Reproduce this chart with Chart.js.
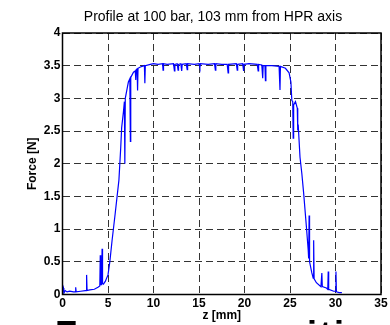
<!DOCTYPE html>
<html>
<head>
<meta charset="utf-8">
<script src="https://cdn.jsdelivr.net/npm/chart.js@4/dist/chart.umd.min.js"></script>
<style>
  body { margin: 0; background: #fff; }
  #wrap { position: relative; width: 390px; height: 325px; overflow: hidden; }
  #big { position: absolute; left: 55px; top: 317px; font: bold 36px 'Liberation Sans', Arial, sans-serif;
         line-height: 36px; letter-spacing: 2.5px; color: #000; white-space: nowrap; }
</style>
</head>
<body>
<div id="wrap">
  <canvas id="chart"></canvas>
  <div id="big">Force vs position</div>
</div>
<script>
var chartTitle = 'Profile at 100 bar, 103 mm from HPR axis';
var xTitle = 'z [mm]';
var yTitle = 'Force [N]';

var zValues = [0, 0.1, 0.15, 0.3, 0.5, 0.8, 1.2, 1.4, 1.45, 1.5, 2.0, 2.5, 2.6, 2.65, 2.7, 3.0, 3.5, 3.9,
  4.1, 4.15, 4.2, 4.3, 4.35, 4.4, 4.5, 4.7, 5.0, 5.2, 5.45, 5.8, 6.0, 6.2, 6.4, 6.5, 6.7, 6.8, 6.85, 6.9,
  7.1, 7.24, 7.4, 7.46, 7.5, 7.8, 8.0, 8.05, 8.1, 8.2, 8.25, 8.3, 8.55, 9.0, 9.05, 9.1, 9.65, 10, 10.5,
  11.0, 11.05, 11.1, 11.5, 12.2, 12.3, 12.35, 12.6, 12.7, 12.75, 13.0, 13.1, 13.15, 13.6, 13.7, 13.75,
  14.5, 15.0, 15.1, 15.15, 16, 16.7, 16.8, 16.85, 17.5, 18.1, 18.2, 18.25, 19.1, 19.2, 19.25, 19.8, 19.9,
  19.95, 20.5, 21.4, 21.5, 21.55, 21.9, 22.0, 22.05, 22.25, 22.3, 22.35, 23.0, 23.8, 23.9, 23.95, 24.5,
  24.9, 25.1, 25.2, 25.3, 25.35, 25.4, 25.6, 25.8, 25.85, 25.9, 26.1, 26.3, 26.5, 26.8, 27.0, 27.05, 27.1,
  27.15, 27.4, 27.55, 27.6, 27.65, 27.9, 28.4, 28.5, 28.55, 29.0, 29.15, 29.2, 29.25, 29.8, 30.0, 30.05,
  30.1, 30.4, 30.7];
var forceValues = [0.05, 0.1, 0.02, 0.06, 0.04, 0.05, 0.04, 0.04, 0.11, 0.04, 0.05, 0.06, 0.06, 0.3, 0.06, 0.07, 0.08, 0.11,
  0.13, 0.6, 0.15, 0.15, 0.7, 0.17, 0.16, 0.2, 0.3, 0.5, 0.83, 1.25, 1.5, 1.75, 2.25, 2.55, 2.8, 2.95, 2.0, 3.0,
  3.15, 3.25, 3.3, 2.34, 3.32, 3.4, 3.42, 3.28, 3.44, 3.45, 3.12, 3.46, 3.48, 3.5, 3.23, 3.5, 3.52, 3.53, 3.52,
  3.53, 3.43, 3.53, 3.52, 3.53, 3.42, 3.52, 3.53, 3.43, 3.52, 3.53, 3.42, 3.52, 3.53, 3.44, 3.53,
  3.52, 3.53, 3.47, 3.53, 3.52, 3.53, 3.43, 3.53, 3.52, 3.52, 3.39, 3.52, 3.53, 3.43, 3.52, 3.53, 3.42,
  3.52, 3.53, 3.52, 3.42, 3.52, 3.51, 3.31, 3.5, 3.5, 3.27, 3.5, 3.5, 3.49, 3.13, 3.49, 3.46,
  3.39, 3.25, 2.97, 2.95, 2.39, 2.9, 2.95, 2.85, 2.51, 2.6, 2.1, 1.85, 1.55, 1.04, 0.68, 0.55, 1.21,
  0.5, 0.33, 0.25, 0.83, 0.24, 0.18, 0.12, 0.33, 0.12, 0.1, 0.08, 0.35, 0.08, 0.05, 0.05, 0.35,
  0.04, 0.03, 0.03];

var points = zValues.map(function(z, i) { return {x: z, y: forceValues[i]}; });

var fontFam = "'Liberation Sans', Arial, sans-serif";

const framePlugin = {
    id: 'frame',
    afterDraw: function(chart) {
        var ctx = chart.ctx;
        var a = chart.chartArea;
        ctx.save();
        ctx.strokeStyle = '#000';
        ctx.lineWidth = 1.5;
        ctx.strokeRect(a.left, a.top, a.right - a.left, a.bottom - a.top);
        ctx.fillStyle = '#000';
        ctx.font = '14px ' + fontFam;
        ctx.textAlign = 'center';
        ctx.textBaseline = 'alphabetic';
        ctx.fillText(chartTitle, 213, 20.5);
        ctx.restore();
    }
};

const config = {
    type: 'scatter',
    data: {
        datasets: [{
            data: points,
            showLine: true,
            borderColor: '#0000ff',
            borderWidth: 1.2,
            pointRadius: 0,
            tension: 0
        }]
    },
    options: {
        responsive: true,
        maintainAspectRatio: false,
        animation: false,
        layout: { padding: { top: 33, right: 9, left: 0, bottom: 0 } },
        plugins: {
            legend: { display: false },
            tooltip: { enabled: false }
        },
        scales: {
            x: {
                type: 'linear',
                min: 0,
                max: 35,
                afterFit: function(s) { s.height = 30.5; },
                ticks: { stepSize: 5, color: '#000', padding: 2, font: { family: fontFam, size: 12, weight: 'bold' } },
                grid: { color: '#333', lineWidth: 1, drawTicks: false },
                border: { display: false, dash: [7, 4] },
                title: { display: true, text: xTitle, color: '#000', padding: { top: 0, bottom: 2 },
                         font: { family: fontFam, size: 12, weight: 'bold' } }
            },
            y: {
                min: 0,
                max: 4,
                afterFit: function(s) { s.width = 62.5; },
                ticks: { stepSize: 0.5, color: '#000', padding: 2, font: { family: fontFam, size: 12, weight: 'bold' },
                         callback: function(v) { return String(v); } },
                grid: { color: '#333', lineWidth: 1, drawTicks: false },
                border: { display: false, dash: [7, 4] },
                title: { display: true, text: yTitle, color: '#000', padding: { top: 25, bottom: 0 },
                         font: { family: fontFam, size: 12, weight: 'bold' } }
            }
        }
    },
    plugins: [framePlugin]
};

const myChart = new Chart(document.getElementById('chart'), config);
</script>
</body>
</html>
